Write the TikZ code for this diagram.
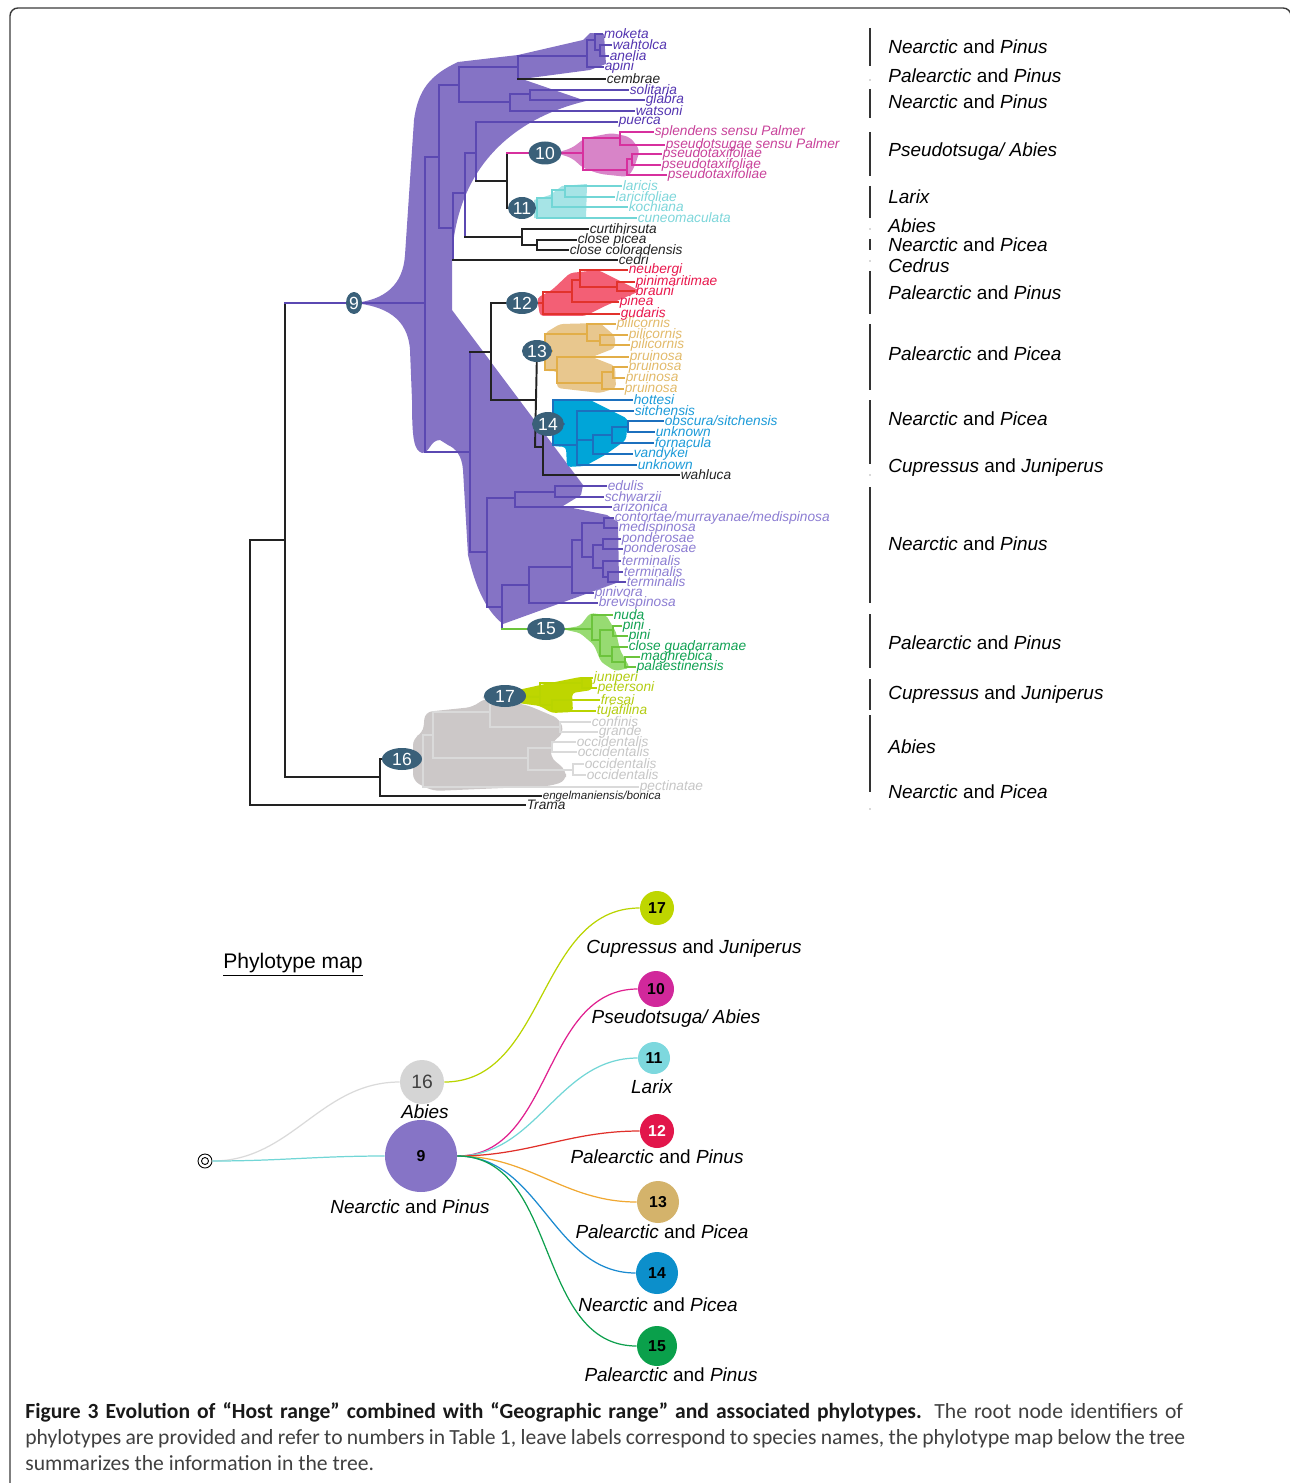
\documentclass[tikz,border=0pt]{standalone}
\usepackage{fontspec}
\setmainfont{Liberation Sans}
\newfontfamily\capfont{Carlito}
\usetikzlibrary{shapes.geometric, positioning}

% tree colours
\definecolor{nodeC}{HTML}{3A6079}
\definecolor{blk}{HTML}{222222}
\definecolor{purpL}{HTML}{5B48B2}
\definecolor{purpF}{HTML}{8573C5}
\definecolor{purpT}{HTML}{5334B0}
\definecolor{purpT2}{HTML}{8C7DD2}
\definecolor{magL}{HTML}{D7309E}
\definecolor{magF}{HTML}{D884C8}
\definecolor{magT}{HTML}{C8429A}
\definecolor{cyaL}{HTML}{72D6D6}
\definecolor{cyaF}{HTML}{A6E4E6}
\definecolor{cyaT}{HTML}{7DD6DA}
\definecolor{redL}{HTML}{E2322C}
\definecolor{redF}{HTML}{F35F75}
\definecolor{redT}{HTML}{E8174C}
\definecolor{tanL}{HTML}{E2AE48}
\definecolor{tanF}{HTML}{E8C78E}
\definecolor{tanT}{HTML}{E2BA6A}
\definecolor{bluL}{HTML}{1C70BE}
\definecolor{bluF}{HTML}{00A5D8}
\definecolor{bluT}{HTML}{1B9AD8}
\definecolor{grnL}{HTML}{6CC43C}
\definecolor{grnF}{HTML}{97DB72}
\definecolor{grnT}{HTML}{10A152}
\definecolor{ylwL}{HTML}{B9D400}
\definecolor{ylwF}{HTML}{BED600}
\definecolor{ylwT}{HTML}{B3CC10}
\definecolor{gryL}{HTML}{DADADA}
\definecolor{gryF}{HTML}{CCC8C8}
\definecolor{gryT}{HTML}{C6C6C6}
% map colours
\definecolor{mP}{HTML}{8674C6}
\definecolor{mGry}{HTML}{D5D5D5}
\definecolor{mY}{HTML}{BED600}
\definecolor{mM}{HTML}{D1289B}
\definecolor{mC}{HTML}{7DD8DE}
\definecolor{mR}{HTML}{E2164B}
\definecolor{mT}{HTML}{D4B36B}
\definecolor{mB}{HTML}{0C8FCB}
\definecolor{mG}{HTML}{0AA04B}
\definecolor{lkO}{HTML}{F0A832}
\definecolor{lkM}{HTML}{E0208F}
\definecolor{lkR}{HTML}{E0302A}
\definecolor{lkB}{HTML}{1A8AD0}
\definecolor{lkG}{HTML}{0FA04E}
\definecolor{barC}{HTML}{333333}
\definecolor{frameC}{HTML}{3A3A3A}
\definecolor{capC}{HTML}{404040}

\pgfdeclarelayer{bg}
\pgfsetlayers{bg,main}

\newcommand{\hr}[2]{\textit{#1} and \textit{#2}}

\begin{document}
\begin{tikzpicture}[x=0.02cm, y=-0.02cm,
    br/.style={line width=1.1pt, line cap=rect},
    nd/.style={ellipse, fill=nodeC, text=white, inner sep=0pt, minimum height=0.44cm,
        font=\fontsize{10}{10}\selectfont},
    leaf/.style={right, inner sep=0.5pt, font=\fontsize{7.8}{8}\selectfont\itshape},
    host/.style={anchor=west, inner sep=0pt, font=\fontsize{10.8}{12}\selectfont},
    bar/.style={line width=1.3pt, draw=barC},
    mapc/.style={circle, inner sep=0pt, font=\fontsize{9}{9}\selectfont\bfseries},
    mapl/.style={inner sep=0pt, font=\fontsize{10.8}{12}\selectfont},
    link/.style={line width=0.7pt, out=0, in=180},
    captext/.style={anchor=base west, inner sep=0pt, text=capC, font=\capfont\fontsize{12.3}{14}\selectfont}
]
\useasboundingbox (0,0) rectangle (1290,1483);
\clip (0,0) rectangle (1290,1483);

% frame
\draw[frameC, line width=0.8pt, rounded corners=4.5pt] (10,1500) -- (10,8) -- (1291,8) -- (1291,1500);

% phylotype roots on the tree
\node[nd, minimum width=0.32cm] (n9) at (354,303) {9};
\node[nd, minimum width=0.66cm, minimum height=0.46cm] (n10) at (545,153) {10};
\node[nd, minimum width=0.56cm] (n11) at (522,208) {11};
\node[nd, minimum width=0.64cm] (n12) at (522,303) {12};
\node[nd, minimum width=0.60cm] (n13) at (537,351) {13};
\node[nd, minimum width=0.64cm, minimum height=0.48cm] (n14) at (548,424) {14};
\node[nd, minimum width=0.76cm] (n15) at (546,629) {15};
\node[nd, minimum width=0.80cm] (n16) at (402,759) {16};
\node[nd, minimum width=0.84cm] (n17) at (505,696) {17};

\begin{pgfonlayer}{bg}
% clade shading
\fill[purpF] (354,303) .. controls (385,300) and (403,285) .. (405,255)
    -- (414,120) .. controls (418,90) and (430,75) .. (458,62)
    -- (518,55) -- (583,40) -- (590,33) -- (604,34) -- (606,64) -- (590,70) -- (522,79)
    -- (586,101) .. controls (515,118) and (458,165) .. (452,255)
    -- (452,310) -- (583,485) -- (581,495) -- (563,506) -- (607,515) -- (618,522)
    -- (619,582) -- (503,624) .. controls (485,610) and (475,585) .. (468,555)
    -- (463,470) .. controls (462,455) and (455,448) .. (448,445)
    -- (440,440) .. controls (430,440) and (430,453) .. (422,453)
    .. controls (414,450) and (412,440) .. (412,400)
    -- (410,350) .. controls (408,318) and (385,306) .. (354,303) -- cycle;
\fill[magF, rounded corners=3pt] (556,153) -- (572,148) -- (585,138) -- (612,133) -- (630,137)
    -- (640,150) -- (634,168) -- (628,177) -- (600,174) -- (583,168) -- (572,158) -- cycle;
\fill[cyaF] (534,218) -- (534,200) -- (550,195) -- (562,186) -- (587,184) -- (586,219) -- cycle;
\fill[redF, rounded corners=2pt] (537,298) -- (552,290) -- (570,273) -- (598,270) -- (640,291)
    -- (605,306) -- (585,316) -- (540,316) -- cycle;
\fill[tanF, rounded corners=2pt] (545,333) -- (560,324) -- (600,323) -- (615,336) -- (615,348)
    -- (592,357) -- (615,366) -- (616,388) -- (600,393) -- (557,388) -- (557,371) -- (545,371) -- cycle;
\fill[bluF, rounded corners=2pt] (552,399) -- (588,399) -- (628,419) -- (626,440) -- (605,455)
    -- (585,466) -- (567,467) -- (566,447) -- (552,446) -- cycle;
\fill[grnF, rounded corners=2pt] (562,629) -- (580,626) -- (590,613) -- (606,615) -- (616,632)
    -- (620,650) -- (630,668) -- (615,671) -- (601,662) -- (594,645) -- (580,633) -- cycle;
\fill[ylwF, rounded corners=2pt] (518,690) -- (545,684) -- (580,677) -- (592,677) -- (592,690)
    -- (572,693) -- (573,712) -- (552,713) -- (540,706) -- (518,703) -- cycle;
\fill[gryF, rounded corners=4pt] (425,712) -- (473,707) -- (485,698) -- (527,705) -- (560,719)
    -- (564,733) -- (552,742) -- (550,757) -- (566,770) -- (566,781) -- (550,786) -- (433,791)
    -- (413,781) -- (413,738) -- (423,733) -- cycle;

% root
\draw[br, blk] (285,540) -- (250,540) -- (250,805);
\draw[br, blk] (285,303) -- (285,777) -- (380,777);
\draw[br, blk] (380,796) -- (380,759) -- (n16);

% clade 9, upper part
\draw[br, purpL] (285,303) -- (n9);
\draw[br, purpL] (n9) -- (425,303);
\draw[br, purpL] (439,157) -- (425,157) -- (425,452) -- (470,452);
\draw[br, purpL] (459,85) -- (439,85) -- (439,228) -- (453,228);
\draw[br, purpL] (518,67) -- (459,67) -- (459,102) -- (510,102);
\draw[br, purpL] (587,56) -- (518,56) -- (518,79);
\draw[br, purpL] (595,40) -- (587,40) -- (587,67);
\draw[br, purpL] (595,34) -- (595,50) -- (600,50);
\draw[br, purpL] (600,45) -- (600,56);
\draw[br, purpL] (530,94) -- (510,94) -- (510,111);
\draw[br, purpL] (530,90) -- (530,100);
\draw[br, purpL] (465,193) -- (453,193) -- (453,260);
\draw[br, purpL] (476,153) -- (465,153) -- (465,237);
\draw[br, purpL] (476,122) -- (476,181);
\draw[br, blk] (476,181) -- (507,181);
\draw[br, blk] (507,153) -- (507,208);
\draw[br, blk] (507,208) -- (n11);
\draw[br, magL] (507,153) -- (n10);
\draw[br, blk] (465,237) -- (522,237);
\draw[br, blk] (522,229) -- (522,245) -- (537,245);
\draw[br, blk] (537,240) -- (537,250);

% clade 10
\draw[br, magL] (n10) -- (583,153);
\draw[br, magL] (620,138) -- (583,138) -- (583,170) -- (627,170);
\draw[br, magL] (620,132) -- (620,145);
\draw[br, magL] (632,159) -- (627,159) -- (627,175);
\draw[br, magL] (632,154) -- (632,165);

% clade 11
\draw[br, cyaL] (n11) -- (537,208);
\draw[br, cyaL] (552,198) -- (537,198) -- (537,218);
\draw[br, cyaL] (565,190) -- (552,190) -- (552,207);
\draw[br, cyaL] (565,186) -- (565,197);

% clade 9, lower part
\draw[br, purpL] (470,352) -- (470,552) -- (487,552);
\draw[br, blk] (470,352) -- (491,352);
\draw[br, blk] (n12) -- (491,303) -- (491,400) -- (535,400);
\draw[br, blk] (n13) -- (535,447) -- (543,447);
\draw[br, blk] (543,424) -- (543,475);

% clade 12
\draw[br, redL] (n12) -- (543,303);
\draw[br, redL] (572,292) -- (543,292) -- (543,314);
\draw[br, redL] (580,280) -- (572,280) -- (572,302);
\draw[br, redL] (617,287) -- (580,287) -- (580,270);
\draw[br, redL] (617,282) -- (617,291);

% clade 13
\draw[br, tanL] (n13) -- (545,351);
\draw[br, tanL] (587,334) -- (545,334) -- (545,370) -- (557,370);
\draw[br, tanL] (600,341) -- (587,341) -- (587,324);
\draw[br, tanL] (600,335) -- (600,345);
\draw[br, tanL] (557,357) -- (557,383) -- (602,383);
\draw[br, tanL] (613,372) -- (602,372) -- (602,389);
\draw[br, tanL] (613,367) -- (613,378);

% clade 14
\draw[br, bluL] (n14) -- (553,424);
\draw[br, bluL] (553,400) -- (553,445) -- (577,445);
\draw[br, bluL] (577,411) -- (577,465);
\draw[br, bluL] (577,440) -- (593,440);
\draw[br, bluL] (612,435) -- (593,435) -- (593,454);
\draw[br, bluL] (628,427) -- (612,427) -- (612,443);
\draw[br, bluL] (628,421) -- (628,432);

% pines below
\draw[br, purpL] (515,498) -- (487,498) -- (487,607) -- (502,607);
\draw[br, purpL] (555,492) -- (515,492) -- (515,507);
\draw[br, purpL] (555,486) -- (555,497);
\draw[br, purpL] (529,585) -- (502,585) -- (502,629);
\draw[br, purpL] (572,567) -- (529,567) -- (529,603);
\draw[br, purpL] (582,540) -- (572,540) -- (572,593);
\draw[br, purpL] (604,523) -- (582,523) -- (582,557) -- (593,557);
\draw[br, purpL] (604,518) -- (604,528);
\draw[br, purpL] (603,545) -- (593,545) -- (593,568) -- (603,568);
\draw[br, purpL] (603,539) -- (603,549);
\draw[br, purpL] (603,561) -- (603,577) -- (608,577);
\draw[br, purpL] (608,572) -- (608,582);

% clade 15
\draw[br, grnL] (502,629) -- (n15);
\draw[br, grnL] (n15) -- (592,629);
\draw[br, grnL] (592,615) -- (592,640) -- (600,640);
\draw[br, grnL] (613,630) -- (600,630) -- (600,656) -- (612,656);
\draw[br, grnL] (613,626) -- (613,636);
\draw[br, grnL] (612,647) -- (612,662) -- (625,662);
\draw[br, grnL] (625,657) -- (625,667);

% clade 16
\draw[br, gryL] (n16) -- (423,759);
\draw[br, gryL] (433,735) -- (423,735) -- (423,787);
\draw[br, gryL] (490,712) -- (433,712) -- (433,758) -- (528,758);
\draw[br, gryL] (n17) -- (490,697) -- (490,727) -- (560,727);
\draw[br, gryL] (560,722) -- (560,732);
\draw[br, gryL] (552,748) -- (528,748) -- (528,770) -- (573,770);
\draw[br, gryL] (552,742) -- (552,752);
\draw[br, gryL] (573,764) -- (573,775);

% clade 17
\draw[br, ylwL] (n17) -- (540,697);
\draw[br, ylwL] (582,683) -- (540,683) -- (540,705) -- (552,705);
\draw[br, ylwL] (582,678) -- (582,688);
\draw[br, ylwL] (552,700) -- (552,711);

% leaves
\foreach \xa/\y/\xb/\lab [count=\i] in {595/34/602/moketa, 600/45/611/wahtolca,
    600/56/608/anelia, 587/67/603/apini, 530/90/628/solitaria, 530/100/644/glabra,
    510/111/634/watsoni, 476/122/617/puerca}
  \draw[br, purpL] (\xa,\y) -- (\xb,\y) node[leaf, text=purpT] (lp\i) {\lab};
\foreach \xa/\y/\xb/\lab [count=\i] in {518/79/605/cembrae, 522/229/588/curtihirsuta,
    537/240/576/close picea, 537/250/568/close coloradensis, 453/260/617/cedri,
    543/475/679/wahluca, 250/805/525/Trama}
  \draw[br, blk] (\xa,\y) -- (\xb,\y) node[leaf, text=blk] (lk\i) {\lab};
\draw[br, blk] (380,796) -- (541,796) node[leaf, text=blk, font=\fontsize{6.6}{7}\selectfont\itshape] (lk8) {engelmaniensis/bonica};
\foreach \xa/\y/\xb/\lab [count=\i] in {620/132/653/splendens sensu Palmer,
    620/145/664/pseudotsugae sensu Palmer, 632/154/661/pseudotaxifoliae,
    632/165/660/pseudotaxifoliae, 627/175/666/pseudotaxifoliae}
  \draw[br, magL] (\xa,\y) -- (\xb,\y) node[leaf, text=magT] (lm\i) {\lab};
\foreach \xa/\y/\xb/\lab [count=\i] in {565/186/621/laricis, 565/197/614/laricifoliae,
    552/207/627/kochiana, 537/218/636/cuneomaculata}
  \draw[br, cyaL] (\xa,\y) -- (\xb,\y) node[leaf, text=cyaT] (lc\i) {\lab};
\foreach \xa/\y/\xb/\lab [count=\i] in {580/270/627/neubergi, 617/282/634/pinimaritimae,
    617/291/634/brauni, 572/302/618/pinea, 543/314/619/gudaris}
  \draw[br, redL] (\xa,\y) -- (\xb,\y) node[leaf, text=redT] (lr\i) {\lab};
\foreach \xa/\y/\xb/\lab [count=\i] in {587/324/615/pilicornis, 600/335/627/pilicornis,
    600/345/629/pilicornis, 557/357/628/pruinosa, 613/367/627/pruinosa,
    613/378/624/pruinosa, 602/389/623/pruinosa}
  \draw[br, tanL] (\xa,\y) -- (\xb,\y) node[leaf, text=tanT] (lt\i) {\lab};
\foreach \xa/\y/\xb/\lab [count=\i] in {553/400/632/hottesi, 577/411/633/sitchensis,
    628/421/663/{obscura/sitchensis}, 628/432/654/unknown, 612/443/653/fornacula,
    593/454/632/vandykei, 577/465/636/unknown}
  \draw[br, bluL] (\xa,\y) -- (\xb,\y) node[leaf, text=bluT] (lb\i) {\lab};
\foreach \xa/\y/\xb/\lab [count=\i] in {555/486/606/edulis, 555/497/603/schwarzii,
    515/507/611/arizonica, 604/518/613/{contortae/murrayanae/medispinosa},
    604/528/617/medispinosa, 603/539/620/ponderosae, 603/549/622/ponderosae,
    603/561/620/terminalis, 608/572/622/terminalis, 608/582/625/terminalis,
    572/593/593/pinivora, 529/603/597/brevispinosa}
  \draw[br, purpL] (\xa,\y) -- (\xb,\y) node[leaf, text=purpT2] (lq\i) {\lab};
\foreach \xa/\y/\xb/\lab [count=\i] in {592/615/612/nuda, 613/626/621/pini,
    613/636/627/pini, 612/647/627/close guadarramae, 625/657/639/maghrebica,
    625/667/635/palaestinensis}
  \draw[br, grnL] (\xa,\y) -- (\xb,\y) node[leaf, text=grnT] (lg\i) {\lab};
\foreach \xa/\y/\xb/\lab [count=\i] in {582/678/592/juniperi, 582/688/596/petersoni,
    552/700/599/fresai, 552/711/595/tujafilina}
  \draw[br, ylwL] (\xa,\y) -- (\xb,\y) node[leaf, text=ylwT] (ly\i) {\lab};
\foreach \xa/\y/\xb/\lab [count=\i] in {560/722/590/confinis, 560/732/597/grande,
    552/742/575/occidentalis, 552/752/576/occidentalis, 573/764/583/occidentalis,
    573/775/585/occidentalis, 423/787/638/pectinatae}
  \draw[br, gryL] (\xa,\y) -- (\xb,\y) node[leaf, text=gryT] (la\i) {\lab};
\end{pgfonlayer}

% host / geographic range column
\foreach \a/\b in {28/66, 89/118, 132/176, 186/218, 239/250, 271/314, 324/390,
    400/464, 487/603, 614/668, 679/710, 715/792}
  \draw[bar] (870,\a) -- (870,\b);
\foreach \a in {79, 228, 260, 474, 808}
  \draw[gray!30, line width=0.6pt] (870,\a) -- (870,\a+2);
\foreach \y/\lab [count=\i] in {47/\hr{Nearctic}{Pinus}, 76/\hr{Palearctic}{Pinus},
    102/\hr{Nearctic}{Pinus}, 152/\textit{Pseudotsuga/ Abies}, 197/\textit{Larix},
    226/\textit{Abies}, 245/\hr{Nearctic}{Picea}, 266/\textit{Cedrus},
    293/\hr{Palearctic}{Pinus}, 354/\hr{Palearctic}{Picea}, 419/\hr{Nearctic}{Picea},
    468/\hr{Cupressus}{Juniperus}, 544/\hr{Nearctic}{Pinus}, 643/\hr{Palearctic}{Pinus},
    695/\hr{Cupressus}{Juniperus}, 747/\textit{Abies}, 792/\hr{Nearctic}{Picea}}
  \node[host] (hr\i) at (888,\y) {\lab};

% phylotype map
\node[inner sep=0pt, font=\fontsize{12}{12}\selectfont] (mtitle) at (293,965) {\underline{Phylotype map}};
\node[draw, circle, minimum size=0.28cm, inner sep=0pt, line width=0.5pt] (root) at (205,1161) {};
\draw[line width=0.5pt] (root.center) circle[radius=3.5];
\node[mapc, fill=mGry, minimum size=0.88cm, text=black!75, font=\fontsize{11}{11}\selectfont] (m16) at (422,1082) {16};
\node[mapc, fill=mP, minimum size=1.44cm] (m9) at (421,1156) {9};
\node[mapc, fill=mY, minimum size=0.68cm] (m17) at (657,908) {17};
\node[mapc, fill=mM, minimum size=0.72cm] (m10) at (656,989) {10};
\node[mapc, fill=mC, minimum size=0.64cm] (m11) at (654,1058) {11};
\node[mapc, fill=mR, minimum size=0.68cm, text=white] (m12) at (657,1131) {12};
\node[mapc, fill=mT, minimum size=0.84cm] (m13) at (658,1202) {13};
\node[mapc, fill=mB, minimum size=0.84cm] (m14) at (657,1273) {14};
\node[mapc, fill=mG, minimum size=0.80cm] (m15) at (657,1346) {15};

\draw[link, gryL] (root) to (m16);
\draw[link, cyaL] (root) to (m9);
\draw[link, ylwL] (m16) to (m17);
\draw[link, lkM] (m9) to (m10);
\draw[link, cyaL] (m9) to (m11);
\draw[link, lkR] (m9) to (m12);
\draw[link, lkO] (m9) to (m13);
\draw[link, lkB] (m9) to (m14);
\draw[link, lkG] (m9) to (m15);

\node[mapl] (t16) at (425,1112) {\textit{Abies}};
\node[mapl] (t9) at (410,1207) {\hr{Nearctic}{Pinus}};
\node[mapl] (t17) at (694,949) {\hr{Cupressus}{Juniperus}};
\node[mapl] (t10) at (676,1019) {\textit{Pseudotsuga/ Abies}};
\node[mapl] (t11) at (652,1087) {\textit{Larix}};
\node[mapl] (t12) at (657,1157) {\hr{Palearctic}{Pinus}};
\node[mapl] (t13) at (662,1232) {\hr{Palearctic}{Picea}};
\node[mapl] (t14) at (658,1305) {\hr{Nearctic}{Picea}};
\node[mapl] (t15) at (671,1375) {\hr{Palearctic}{Pinus}};

% caption
\node[captext] (cap1) at (25,1418) {\makebox[23.16cm][s]{\textbf{\color{black!90}Figure 3 Evolution of “Host range” combined with “Geographic range” and associated phylotypes.} The root node identifiers of}};
\node[captext] (cap2) at (25,1444) {\makebox[23.2cm][s]{phylotypes are provided and refer to numbers in Table 1, leave labels correspond to species names, the phylotype map below the tree}};
\node[captext] (cap3) at (25,1470) {summarizes the information in the tree.};
\end{tikzpicture}
\end{document}
